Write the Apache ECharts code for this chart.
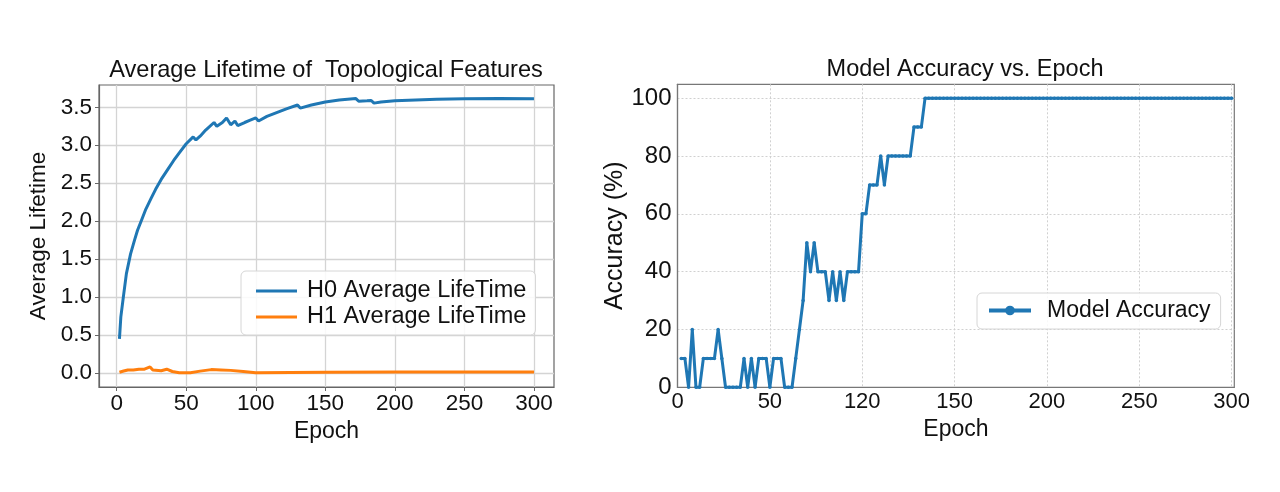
<!DOCTYPE html>
<html>
<head>
<meta charset="utf-8">
<script src="https://cdn.jsdelivr.net/npm/echarts@6/dist/echarts.min.js"></script>
<style>
html,body{margin:0;padding:0;background:#fff;}
#chart{width:1280px;height:492px;}
</style>
</head>
<body>
<div id="chart"></div>
<script>
// ---------- Left chart data ----------
const h0Epochs = [2, 3, 5, 7, 10, 13, 15, 18, 21, 25, 28, 32, 37, 41, 45, 50, 55, 57, 60, 64, 70, 72, 76, 79, 82, 85, 87, 92, 96, 100, 102, 108, 115, 122, 130, 132, 140, 150, 160, 172, 174, 180, 183, 185, 190, 200, 215, 230, 250, 275, 300];
const h0Values = [0.45, 0.74, 1.03, 1.31, 1.57, 1.76, 1.88, 2.02, 2.16, 2.31, 2.42, 2.55, 2.69, 2.80, 2.90, 3.02, 3.11, 3.07, 3.12, 3.20, 3.30, 3.25, 3.30, 3.36, 3.27, 3.32, 3.26, 3.30, 3.33, 3.36, 3.32, 3.38, 3.43, 3.48, 3.53, 3.49, 3.53, 3.57, 3.595, 3.615, 3.58, 3.585, 3.59, 3.555, 3.57, 3.585, 3.595, 3.605, 3.612, 3.615, 3.612];
const h1Epochs = [2, 5, 8, 12, 13, 16, 20, 24, 26, 32, 36, 40, 45, 53, 60, 68, 75, 82, 91, 100, 125, 150, 200, 250, 300];
const h1Values = [0.01, 0.026, 0.04, 0.04, 0.02, 0.05, 0.05, 0.08, 0.04, 0.03, 0.05, 0.02, 0.005, 0.005, 0.025, 0.045, 0.04, 0.035, 0.02, 0.005, 0.008, 0.01, 0.012, 0.013, 0.013];
const leftXTicks = [0, 50, 100, 150, 200, 250, 300];
const leftYTicks = [0, 0.5, 1, 1.5, 2, 2.5, 3, 3.5];

// ---------- Right chart data ----------
const accEpochs = [2,4,6,8,10,12,14,16,18,20,22,24,26,28,30,32,34,36,38,40,42,44,46,48,50,52,54,56,58,60,62,64,66,68,70,72,74,76,78,80,82,84,86,88,90,92,94,96,98,100,102,104,106,108,110,112,114,116,118,120,122,124,126,128,130,132,134,136,138,140,142,144,146,148,150,152,154,156,158,160,162,164,166,168,170,172,174,176,178,180,182,184,186,188,190,192,194,196,198,200,202,204,206,208,210,212,214,216,218,220,222,224,226,228,230,232,234,236,238,240,242,244,246,248,250,252,254,256,258,260,262,264,266,268,270,272,274,276,278,280,282,284,286,288,290,292,294,296,298,300];
const accValues = [10,10,0,20,0,0,10,10,10,10,20,10,0,0,0,0,0,10,0,10,0,10,10,10,0,10,10,10,0,0,0,10,20,30,50,40,50,40,40,40,30,40,30,40,30,40,40,40,40,60,60,70,70,70,80,70,80,80,80,80,80,80,80,90,90,90,100,100,100,100,100,100,100,100,100,100,100,100,100,100,100,100,100,100,100,100,100,100,100,100,100,100,100,100,100,100,100,100,100,100,100,100,100,100,100,100,100,100,100,100,100,100,100,100,100,100,100,100,100,100,100,100,100,100,100,100,100,100,100,100,100,100,100,100,100,100,100,100,100,100,100,100,100,100,100,100,100,100,100,100];
const accXTicks = [0, 50, 100, 150, 200, 250, 300];
const accXTickLabels = ['0', '50', '120', '150', '200', '250', '300'];
const accYTicks = [0, 20, 40, 60, 80, 100];

const FONT = 'Liberation Sans, Arial, Helvetica, sans-serif';
const BLUE = '#1f77b4';
const ORANGE = '#ff7f0e';

const chart = echarts.init(document.getElementById('chart'), null, {renderer: 'canvas'});

const option = {
  animation: false,
  backgroundColor: '#fff',
  textStyle: {fontFamily: FONT},
  title: [
    {text: 'Average Lifetime of  Topological Features', left: 326, top: 58, textAlign: 'center', padding: 0,
     textStyle: {fontFamily: FONT, fontSize: 23.6, fontWeight: 'normal', color: '#111'}},
    {text: 'Model Accuracy vs. Epoch', left: 965, top: 58, textAlign: 'center', padding: 0,
     textStyle: {fontFamily: FONT, fontSize: 23.5, fontWeight: 'normal', color: '#111'}}
  ],
  legend: [
    {
      data: [
        {name: 'H0 Average LifeTime', icon: 'rect'},
        {name: 'H1 Average LifeTime', icon: 'rect'}
      ],
      orient: 'vertical', left: 241, top: 271,
      padding: [8, 9, 6, 15],
      itemWidth: 41, itemHeight: 3, itemGap: 2,
      lineStyle: {width: 4},
      backgroundColor: 'rgba(255,255,255,0.85)', borderColor: '#d6d6d6', borderWidth: 1, borderRadius: 5,
      textStyle: {fontFamily: FONT, fontSize: 23.5, color: '#111', padding: [0, 0, 0, 5]}
    },
    {
      data: ['Model Accuracy'],
      orient: 'vertical', left: 977, top: 293,
      padding: [6, 10, 7, 10],
      itemWidth: 42, itemHeight: 12,
      lineStyle: {width: 4},
      backgroundColor: 'rgba(255,255,255,0.85)', borderColor: '#d6d6d6', borderWidth: 1, borderRadius: 5,
      textStyle: {fontFamily: FONT, fontSize: 23, color: '#111', padding: [0, 0, 0, 11]}
    }
  ],
  grid: [
    {left: 99, top: 85, width: 455, height: 302, show: true, borderColor: '#666', borderWidth: 1.2, backgroundColor: 'transparent', containLabel: false},
    {left: 677.5, top: 84.3, width: 556.8, height: 303, show: true, borderColor: '#777', borderWidth: 1.2, backgroundColor: 'transparent', containLabel: false}
  ],
  xAxis: [
    {
      type: 'value', gridIndex: 0, min: -12.7, max: 314.4,
      name: 'Epoch', nameLocation: 'middle', nameGap: 28,
      nameTextStyle: {fontFamily: FONT, fontSize: 23, color: '#111'},
      axisLine: {show: true, onZero: false, lineStyle: {color: '#666', width: 1.2}},
      axisTick: {show: true, length: 4, customValues: leftXTicks, lineStyle: {color: '#666'}},
      axisLabel: {customValues: leftXTicks, fontFamily: FONT, fontSize: 22.5, color: '#111', margin: 5,
                  formatter: v => String(v)},
      splitLine: {show: true, lineStyle: {color: '#d4d4d4', width: 1.3}}
    },
    {
      type: 'value', gridIndex: 1, min: 0, max: 301.4,
      name: 'Epoch', nameLocation: 'middle', nameGap: 28,
      nameTextStyle: {fontFamily: FONT, fontSize: 23, color: '#111'},
      axisLine: {show: true, onZero: false, lineStyle: {color: '#777', width: 1.2}},
      axisTick: {show: false, customValues: accXTicks},
      axisLabel: {customValues: accXTicks, fontFamily: FONT, fontSize: 22, color: '#111', margin: 4,
                  formatter: v => { const i = accXTicks.indexOf(v); return i >= 0 ? accXTickLabels[i] : ''; }},
      splitLine: {show: true, lineStyle: {color: '#d0d0d0', width: 1, type: [2, 2]}}
    }
  ],
  yAxis: [
    {
      type: 'value', gridIndex: 0, min: -0.184, max: 3.794,
      name: 'Average Lifetime', nameLocation: 'middle', nameGap: 49,
      nameTextStyle: {fontFamily: FONT, fontSize: 22.5, color: '#111'},
      axisLine: {show: true, onZero: false, lineStyle: {color: '#666', width: 1.2}},
      axisTick: {show: true, length: 4, customValues: leftYTicks, lineStyle: {color: '#666'}},
      axisLabel: {customValues: leftYTicks, fontFamily: FONT, fontSize: 22.5, color: '#111', margin: 7,
                  formatter: v => v.toFixed(1)},
      splitLine: {show: true, lineStyle: {color: '#d4d4d4', width: 1.3}}
    },
    {
      type: 'value', gridIndex: 1, min: 0, max: 104.8,
      name: 'Accuracy (%)', nameLocation: 'middle', nameGap: 45,
      nameTextStyle: {fontFamily: FONT, fontSize: 25, color: '#111'},
      axisLine: {show: true, onZero: false, lineStyle: {color: '#777', width: 1.2}},
      axisTick: {show: false, customValues: accYTicks},
      axisLabel: {customValues: accYTicks, fontFamily: FONT, fontSize: 24, color: '#111', margin: 6,
                  formatter: v => String(v)},
      splitLine: {show: true, lineStyle: {color: '#d0d0d0', width: 1, type: [2, 2]}}
    }
  ],
  series: [
    {
      name: 'H0 Average LifeTime', type: 'line', xAxisIndex: 0, yAxisIndex: 0,
      data: h0Epochs.map((e, i) => [e, h0Values[i]]),
      symbol: 'none', showSymbol: false,
      lineStyle: {color: BLUE, width: 3}, itemStyle: {color: BLUE}
    },
    {
      name: 'H1 Average LifeTime', type: 'line', xAxisIndex: 0, yAxisIndex: 0,
      data: h1Epochs.map((e, i) => [e, h1Values[i]]),
      symbol: 'none', showSymbol: false,
      lineStyle: {color: ORANGE, width: 3}, itemStyle: {color: ORANGE}
    },
    {
      name: 'Model Accuracy', type: 'line', xAxisIndex: 1, yAxisIndex: 1,
      data: accEpochs.map((e, i) => [e, accValues[i]]),
      symbol: 'circle', symbolSize: 3.5, showSymbol: true, showAllSymbol: true,
      lineStyle: {color: BLUE, width: 3}, itemStyle: {color: BLUE},
      clip: false
    }
  ]
};
chart.setOption(option);
</script>
</body>
</html>
